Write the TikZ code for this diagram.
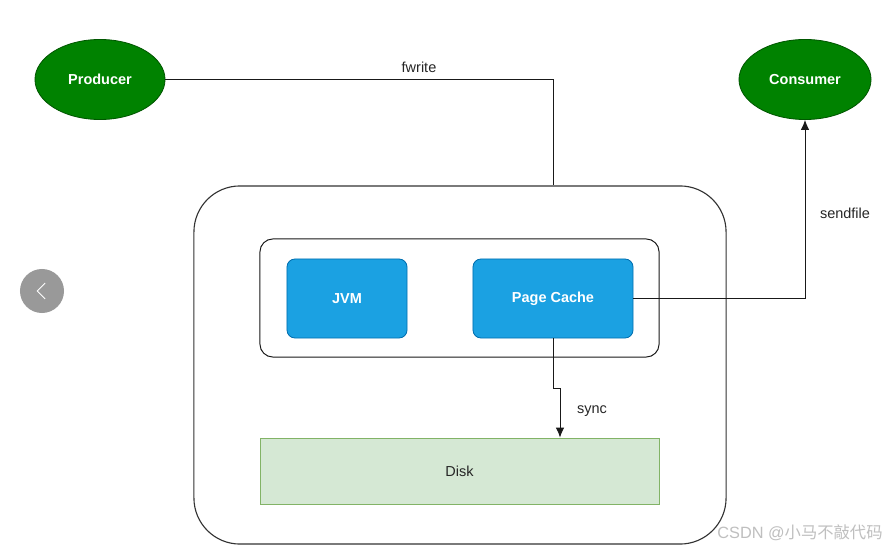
\documentclass[tikz,border=0pt]{standalone}
\usepackage{fontspec}
\setmainfont{Liberation Sans}
\newfontfamily\cjkfont{Noto Sans CJK SC}
\usetikzlibrary{arrows.meta, shapes.geometric}

\definecolor{procgreen}{HTML}{008200}
\definecolor{procedge}{HTML}{005700}
\definecolor{cacheblue}{HTML}{1BA1E2}
\definecolor{cacheedge}{HTML}{006EAF}
\definecolor{diskfill}{HTML}{D5E8D4}
\definecolor{diskedge}{HTML}{82B366}

\tikzset{
    actor/.style = {ellipse, draw=procedge, fill=procgreen, text=white,
        font=\fontsize{10.3}{12}\selectfont\bfseries, minimum height=2cm, line width=0.6pt},
    membox/.style = {rectangle, rounded corners=0.2cm, draw=cacheedge, fill=cacheblue,
        text=white, font=\fontsize{10.3}{12}\selectfont\bfseries,
        minimum height=1.975cm, line width=0.6pt},
    lbl/.style = {font=\fontsize{10.3}{12}\selectfont, text=black!85},
    wire/.style = {line width=0.7pt, black!90}
}

\begin{document}
\begin{tikzpicture}[x=0.025cm, y=-0.025cm, -, auto]
        \useasboundingbox[fill=white] (0,0) rectangle (886,550);

        \node[actor, minimum width=3.25cm](Prod) at (100, 79.5){Producer};
        \node[actor, minimum width=3.3cm](Cons) at (805, 79.5){Consumer};

        \node[draw=black!80, line width=0.8pt, rounded corners=1.15cm,
            minimum width=13.3cm, minimum height=8.95cm](Outer) at (460, 365){};
        \node[draw=black!90, line width=0.7pt, rounded corners=0.32cm,
            minimum width=9.975cm, minimum height=2.95cm](Inner) at (459.5, 298){};

        \node[membox, minimum width=3cm](JVM) at (347, 298.5){JVM};
        \node[membox, minimum width=4cm](PC) at (553, 298.5){Page Cache};

        \node[draw=diskedge, fill=diskfill, line width=0.6pt, lbl,
            minimum width=9.975cm, minimum height=1.65cm](Disk) at (459.5, 471){Disk};

        % fwrite
        \draw[wire] (Prod.east) -| (PC.north |- Outer.north);
        \node[lbl](fw) at (419, 67){fwrite};

        % sendfile
        \draw[wire, -{Latex[length=7pt, width=6pt]}] (PC.east) -| (Cons.south);
        \node[lbl](sf) at (845, 213){sendfile};

        % sync
        \coordinate (j1) at (553, 388);
        \coordinate (j2) at (560, 388);
        \draw[wire, -{Latex[length=7pt, width=6pt]}] (PC.south) -- (j1) -- (j2) -- (j2 |- Disk.north);
        \node[lbl](sy) at (592, 411){sync};

        % page widgets
        \node[circle, fill=black!40, minimum size=1.1cm](prev) at (42, 291){};
        \draw[white, line width=0.6pt] ([xshift=0.08cm, yshift=0.2cm]prev.center)
            -- ([xshift=-0.12cm]prev.center) -- ([xshift=0.08cm, yshift=-0.2cm]prev.center);
        \node[text=black!25, font=\fontsize{11.6}{13}\selectfont](mark) at (800, 533){CSDN @{\cjkfont 小马不敲代码}};

    \end{tikzpicture}
\end{document}
